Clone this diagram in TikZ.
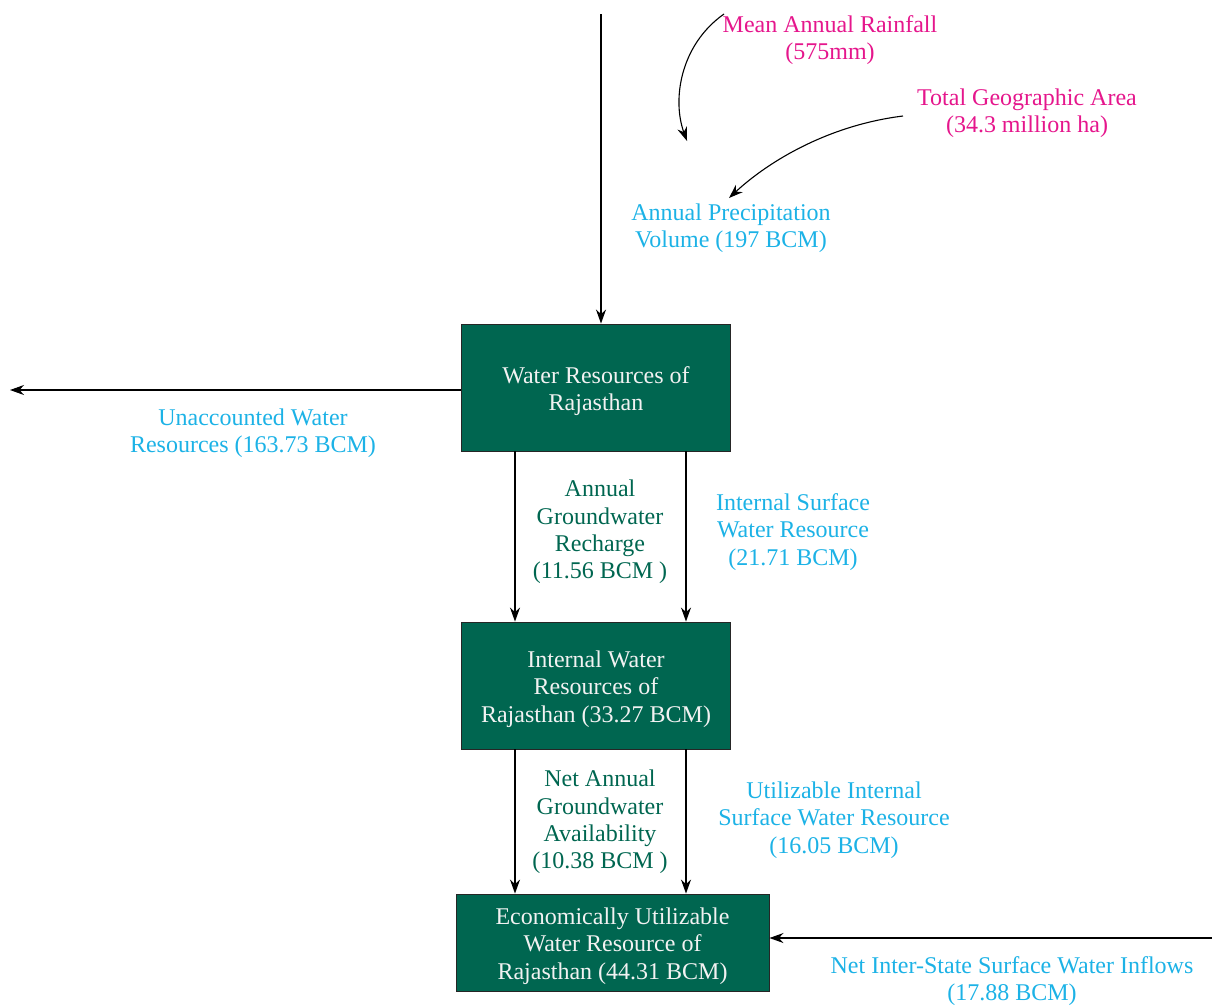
\documentclass[tikz,border=0pt]{standalone}
\usepackage{fontspec}
\setmainfont{Liberation Serif}
\usetikzlibrary{arrows.meta}
\definecolor{boxgreen}{HTML}{006650}
\definecolor{pinktxt}{HTML}{E5168C}
\definecolor{cyantxt}{HTML}{1CB2E6}
\begin{document}
\begin{tikzpicture}[x=1pt,y=-1pt,
  txt/.style={align=center,inner sep=0pt,font=\fontsize{24}{27.3}\selectfont},
  box/.style={draw=black!85,line width=0.9pt,fill=boxgreen,inner sep=0pt},
  boxtext/.style={txt,text=white!95!black},
  arr/.style={line width=1.1pt,-{Stealth[length=14pt,width=10pt]}},
  pinkl/.style={txt,text=pinktxt},
  cyanl/.style={txt,text=cyantxt},
  greenl/.style={txt,text=boxgreen}]
\useasboundingbox (0,0) rectangle (1212,1005);
% boxes
\node[box,minimum width=269pt,minimum height=127pt] (b1) at (595.5,387.5) {};
\node[boxtext] (b1t) at (596,391) {Water Resources of\\Rajasthan};
\node[box,minimum width=269pt,minimum height=127pt] (b2) at (595.5,685.5) {};
\node[boxtext] (b2t) at (596,689) {Internal Water\\Resources of\\Rajasthan (33.27 BCM)};
\node[box,minimum width=313pt,minimum height=97pt] (b3) at (612.5,942.5) {};
\node[boxtext] (b3t) at (612.5,946) {Economically Utilizable\\Water Resource of\\Rajasthan (44.31 BCM)};
% labels
\node[pinkl] (rain) at (830,40) {Mean Annual Rainfall\\(575mm)};
\node[pinkl] (area) at (1027,113) {Total Geographic Area\\(34.3 million ha)};
\node[cyanl] (prec) at (731,228) {Annual Precipitation\\Volume (197 BCM)};
\node[cyanl] (unacc) at (253,433) {Unaccounted Water\\Resources (163.73 BCM)};
\node[greenl] (agr) at (600,532) {Annual\\Groundwater\\Recharge\\(11.56 BCM )};
\node[cyanl] (isw) at (793,532) {Internal Surface\\Water Resource\\(21.71 BCM)};
\node[greenl] (nag) at (600,822) {Net Annual\\Groundwater\\Availability\\(10.38 BCM )};
\node[cyanl] (uisw) at (834,820) {Utilizable Internal\\Surface Water Resource\\(16.05 BCM)};
\node[cyanl] (nis) at (1012,981) {Net Inter-State Surface Water Inflows\\(17.88 BCM)};
% connector end points
\coordinate (top) at (601,14);
\coordinate (rainS) at (724,14);
\coordinate (rainE) at (687,141);
\coordinate (areaS) at (903,116);
\coordinate (areaE) at (729,198);
\coordinate (left) at (10,390);
\coordinate (right) at (1212,938);
% connectors
\draw[arr] (top) -- (top |- b1.north);
\draw[arr] (rainS) .. controls (680,45) and (672,100) .. (rainE);
\draw[arr] (areaS) .. controls (830,125) and (770,160) .. (areaE);
\draw[arr] (left -| b1.west) -- (left);
\draw[arr] (515,0 |- b1.south) -- (515,0 |- b2.north);
\draw[arr] (686,0 |- b1.south) -- (686,0 |- b2.north);
\draw[arr] (515,0 |- b2.south) -- (515,0 |- b3.north);
\draw[arr] (686,0 |- b2.south) -- (686,0 |- b3.north);
\draw[arr] (right) -- (right -| b3.east);
\end{tikzpicture}
\end{document}
